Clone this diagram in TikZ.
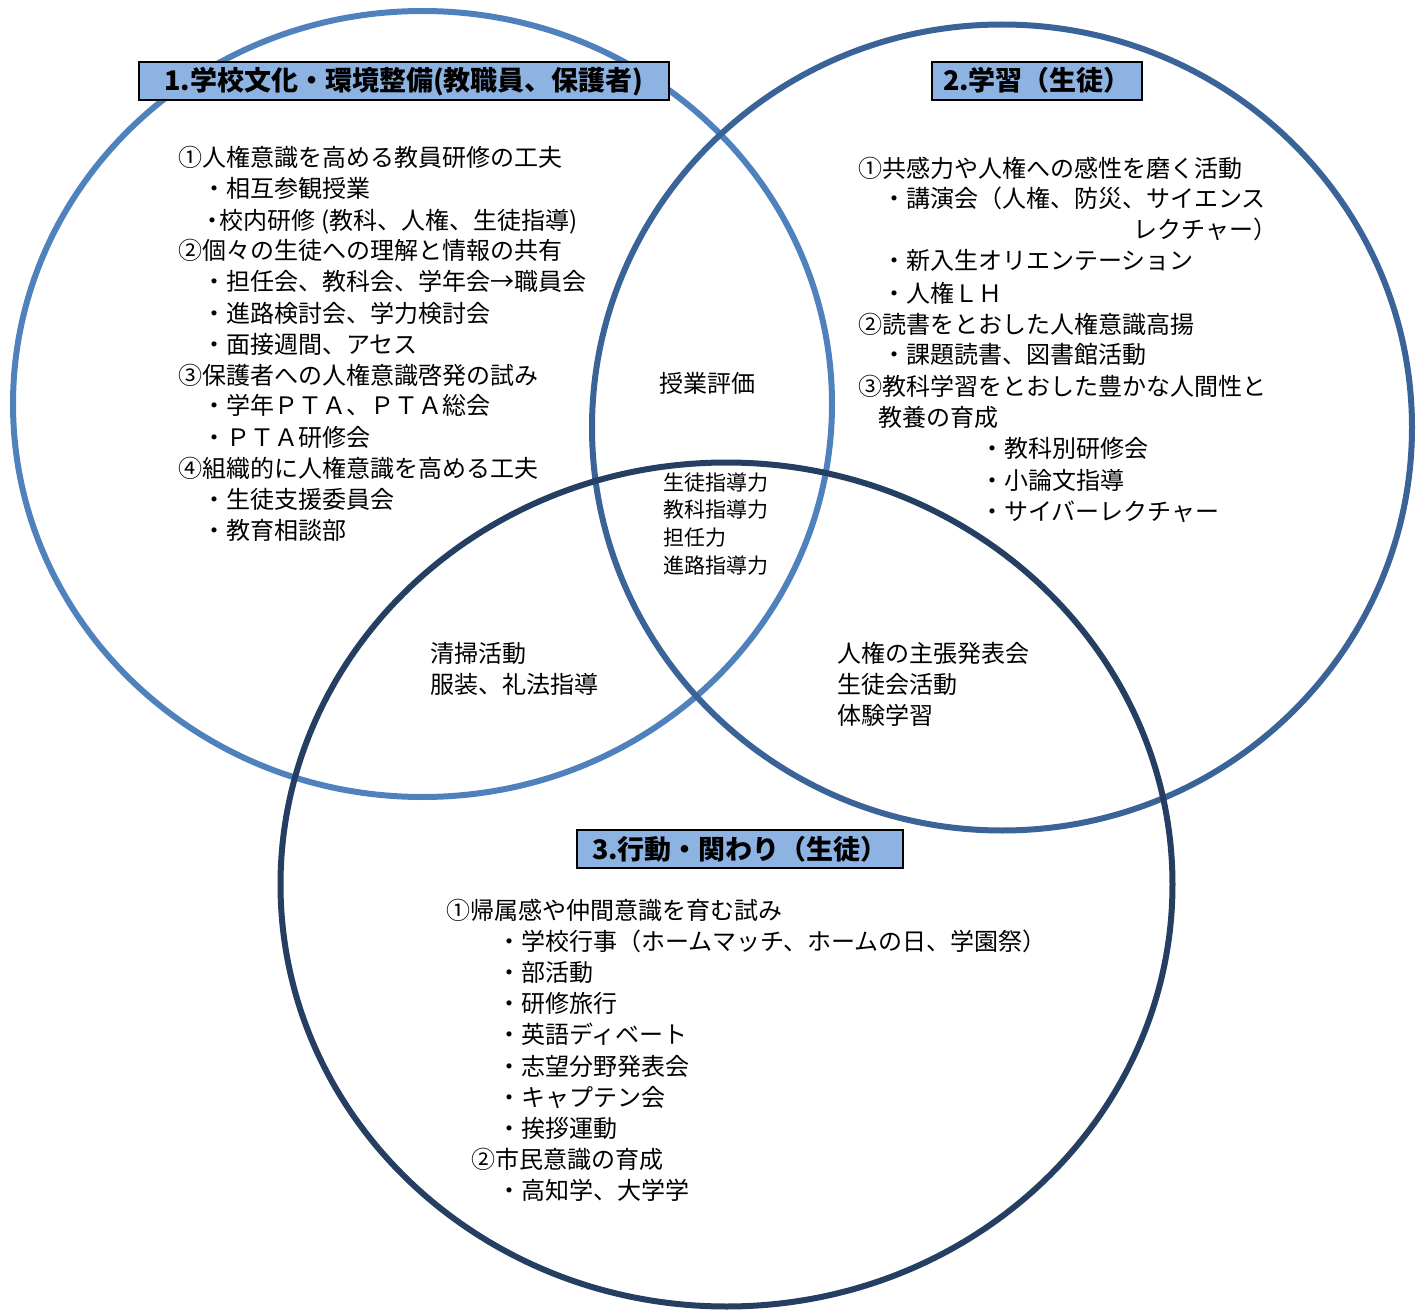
\documentclass[tikz,border=0pt]{standalone}
\usepackage{fontspec}
\newfontfamily\cjk{Noto Sans CJK JP}
\definecolor{cone}{HTML}{4F81BD}
\definecolor{ctwo}{HTML}{3A6398}
\definecolor{cthree}{HTML}{243F62}
\definecolor{tfill}{HTML}{8DB3E2}
\tikzset{
  ring/.style={line width=3pt},
  titlebox/.style={draw=black, line width=1pt, fill=tfill, inner sep=0pt,
    text height=11pt, text depth=1pt,
    minimum height=19pt, font={\cjk\bfseries\fontsize{13.5}{15}\selectfont}},
  txt/.style={anchor=base west, inner sep=0pt, font={\cjk\fontsize{12}{15}\selectfont}},
  smalltxt/.style={anchor=base west, inner sep=0pt, font={\cjk\fontsize{10.5}{13}\selectfont}}
}
\begin{document}
\begin{tikzpicture}[x=0.5pt,y=-0.5pt]
\useasboundingbox (0,0) rectangle (1421,1311);
% circles
\draw[ring, cone]   (422.5,404) ellipse [x radius=204.75pt, y radius=196.5pt];
\draw[ring, ctwo]   (1002,427.5) ellipse [x radius=205pt, y radius=201.5pt];
\draw[ring, cthree] (726.5,884.5) ellipse [x radius=223pt, y radius=211pt];
% title boxes
\node[titlebox, minimum width=265pt] (t1) at (404,81) {1.学校文化・環境整備(教職員、保護者)};
\node[titlebox, minimum width=105pt] (t2) at (1037,81) {2.学習（生徒）};
\node[titlebox, minimum width=163pt] (t3) at (740,849) {3.行動・関わり（生徒）};
% block 1
\foreach \x/\y/\t [count=\i] in {
  178/158/{①人権意識を高める教員研修の工夫},
  202/189/{・相互参観授業},
  205/220/{\makebox[0.6em]{・}校内研修 (教科、人権、生徒指導)},
  178/251/{②個々の生徒への理解と情報の共有},
  202/282/{・担任会、教科会、学年会→職員会},
  202/313/{・進路検討会、学力検討会},
  202/344/{・面接週間、アセス},
  178/375/{③保護者への人権意識啓発の試み},
  202/406/{・学年ＰＴＡ、ＰＴＡ総会},
  202/437/{・ＰＴＡ研修会},
  178/468/{④組織的に人権意識を高める工夫},
  202/499/{・生徒支援委員会},
  202/530/{・教育相談部}}
  \node[txt] (a\i) at (\x,\y+9) {\t};
% block 2
\foreach \x/\y/\t [count=\i] in {
  858/168/{①共感力や人権への感性を磨く活動},
  882/199/{・講演会（人権、防災、サイエンス},
  1133/230/{レクチャー）},
  882/261/{・新入生オリエンテーション},
  882/293/{・人権ＬＨ},
  858/324/{②読書をとおした人権意識高揚},
  882/355/{・課題読書、図書館活動},
  858/386/{③教科学習をとおした豊かな人間性と},
  878/417/{教養の育成},
  980/448/{・教科別研修会},
  980/480/{・小論文指導},
  980/511/{・サイバーレクチャー}}
  \node[txt] (b\i) at (\x,\y+9) {\t};
% block 3
\foreach \x/\y/\t [count=\i] in {
  446/910/{①帰属感や仲間意識を育む試み},
  497/941/{・学校行事（ホームマッチ、ホームの日、学園祭）},
  497/972/{・部活動},
  497/1003/{・研修旅行},
  497/1034/{・英語ディベート},
  497/1066/{・志望分野発表会},
  497/1097/{・キャプテン会},
  497/1128/{・挨拶運動},
  471/1159/{②市民意識の育成},
  497/1190/{・高知学、大学学}}
  \node[txt] (c\i) at (\x,\y+9) {\t};
% intersections
\node[txt] (i1) at (659,383+9) {授業評価};
\foreach \y/\t [count=\i] in {482/生徒指導力, 509/教科指導力, 537/担任力, 565/進路指導力}
  \node[smalltxt] (k\i) at (663,\y+8) {\t};
\foreach \y/\t [count=\i] in {653/清掃活動, 684/服装、礼法指導}
  \node[txt] (l\i) at (430,\y+9) {\t};
\foreach \y/\t [count=\i] in {653/人権の主張発表会, 684/生徒会活動, 715/体験学習}
  \node[txt] (r\i) at (837,\y+9) {\t};
\end{tikzpicture}
\end{document}
